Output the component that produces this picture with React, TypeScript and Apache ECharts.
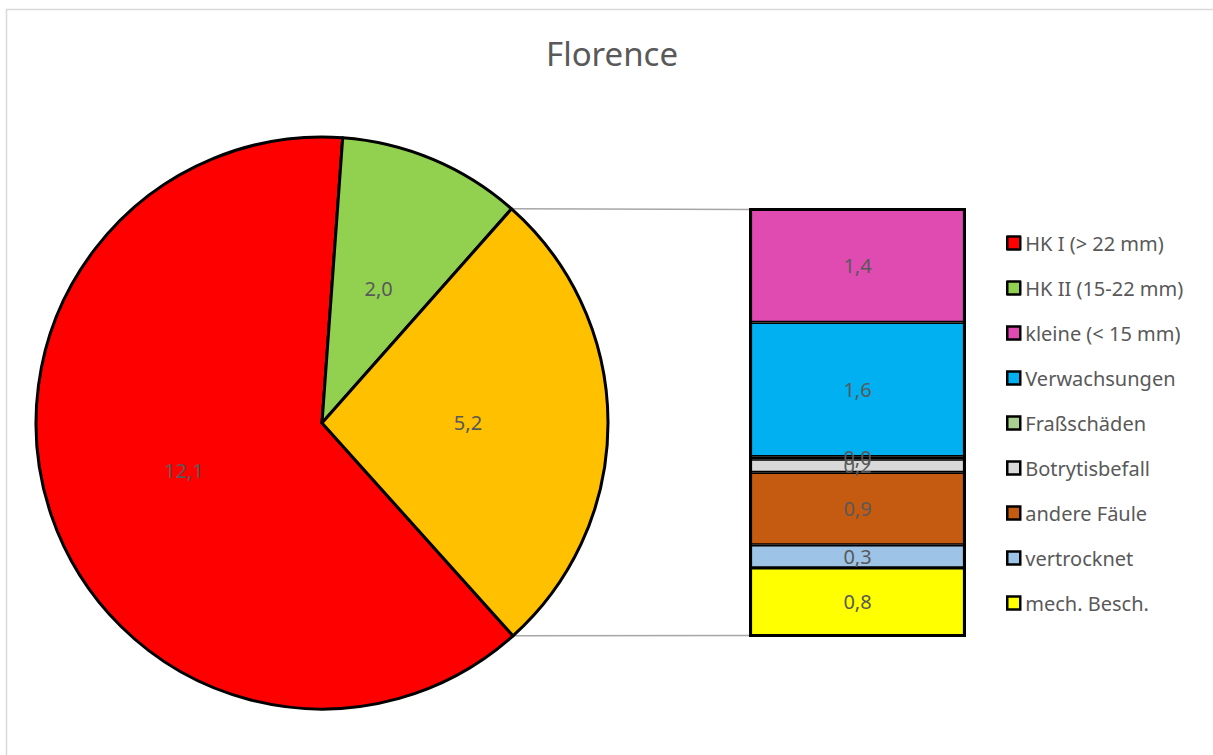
import React, { useEffect, useRef } from "react";
import * as echarts from "echarts";

const title = "Florence";
const pieNames = ["HK I (> 22 mm)", "HK II (15-22 mm)", "Sonstige"];
const pieMainValues = [12.1, 2.0];
const pieColors = ["#FF0000", "#92D050", "#FFC000"];

// bar segments, top to bottom
const barNames = [
  "kleine (< 15 mm)",
  "Verwachsungen",
  "Fraßschäden",
  "Botrytisbefall",
  "andere Fäule",
  "vertrocknet",
  "mech. Besch.",
];
const barValues = [1.37, 1.63, 0.03, 0.16, 0.88, 0.28, 0.82];
const barColors = ["#E04BB2", "#00B0F0", "#A9D08E", "#D9D9D9", "#C55A11", "#9DC3E6", "#FFFF00"];

const fmt = (v: number) => v.toFixed(1).replace(".", ",");
const FONT = "'Noto Sans', sans-serif";
const GRAY = "#595959";

export default function App() {
  const ref = useRef<HTMLDivElement>(null);
  useEffect(() => {
    if (!ref.current) return;
    const chart = echarts.init(ref.current, null, { renderer: "svg" });
    const otherTotal = barValues.reduce((a, b) => a + b, 0);
    const pieValues = [...pieMainValues, otherTotal];
    const pieTotal = pieValues.reduce((a, b) => a + b, 0);
    const cx = 322;
    const cy = 423;
    const r = 286;
    const startAngle = 311.9;
    const gridLeft = 750.5;
    const gridWidth = 214;

    const barSeries = barNames
      .map((name, i) => ({
        name,
        type: "bar",
        stack: "s",
        barWidth: "100%",
        xAxisIndex: 0,
        yAxisIndex: 0,
        data: [barValues[i]],
        itemStyle: { color: barColors[i], borderColor: "#000", borderWidth: 1.6 },
        label: {
          show: true,
          position: "inside",
          formatter: (p: any) => fmt(p.value),
          color: GRAY,
          fontSize: 20,
          fontFamily: FONT,
        },
        emphasis: { disabled: true },
      }))
      .reverse();

    const option: any = {
      animation: false,
      backgroundColor: "#fff",
      title: {
        text: title,
        left: 546,
        top: 37,
        padding: 0,
        textStyle: { fontFamily: FONT, fontSize: 33, fontWeight: "normal", color: GRAY },
      },
      legend: {
        orient: "vertical",
        left: 1006,
        top: 233,
        padding: 0,
        itemWidth: 13,
        itemHeight: 13,
        itemGap: 25,
        icon: "rect",
        data: [pieNames[0], pieNames[1], ...barNames],
        textStyle: { fontFamily: FONT, fontSize: 20, color: GRAY, lineHeight: 20 },
        itemStyle: { borderColor: "#000", borderWidth: 2.5 },
      },
      grid: { left: gridLeft, top: 209.5, width: gridWidth, height: 426 },
      xAxis: { type: "category", data: ["x"], show: false },
      yAxis: { type: "value", min: 0, max: otherTotal, show: false },
      series: [
        {
          type: "pie",
          center: [cx, cy],
          radius: r,
          startAngle,
          clockwise: true,
          avoidLabelOverlap: false,
          data: pieNames.map((name, i) => ({
            name,
            value: pieValues[i],
            itemStyle: { color: pieColors[i] },
          })),
          itemStyle: { borderColor: "#000", borderWidth: 3 },
          label: {
            show: true,
            position: "inside",
            formatter: (p: any) => fmt(p.value),
            color: GRAY,
            fontSize: 20,
            fontFamily: FONT,
          },
          labelLine: { show: false },
          emphasis: { disabled: true },
        },
        ...barSeries,
      ],
    };
    chart.setOption(option);

    // connector lines from the "other" slice edges to the bar
    const orangeStartDeg = startAngle - (360 * (pieValues[0] + pieValues[1])) / pieTotal;
    const orangeEndDeg = startAngle;
    const pt = (deg: number) => {
      const a = (deg * Math.PI) / 180;
      return [cx + r * Math.cos(a), cy - r * Math.sin(a)];
    };
    const pTop = pt(orangeStartDeg);
    const pBot = pt(orangeEndDeg);
    const barTop = chart.convertToPixel({ gridIndex: 0 }, [0, otherTotal]) as number[];
    const barBot = chart.convertToPixel({ gridIndex: 0 }, [0, 0]) as number[];
    chart.setOption({
      graphic: [
        {
          type: "rect",
          shape: { x: 6.5, y: 9.5, width: 1230, height: 780 },
          style: { fill: "none", stroke: "#d9d9d9", lineWidth: 1.5 },
          silent: true,
        },
        {
          type: "line",
          shape: { x1: pTop[0], y1: pTop[1], x2: gridLeft, y2: barTop[1] },
          style: { stroke: "#a6a6a6", lineWidth: 1.5 },
          silent: true,
          z: -1,
        },
        {
          type: "line",
          shape: { x1: pBot[0], y1: pBot[1], x2: gridLeft, y2: barBot[1] },
          style: { stroke: "#a6a6a6", lineWidth: 1.5 },
          silent: true,
          z: -1,
        },
        {
          type: "rect",
          shape: {
            x: gridLeft,
            y: barTop[1],
            width: gridWidth,
            height: barBot[1] - barTop[1],
          },
          style: { fill: "none", stroke: "#000", lineWidth: 3 },
          silent: true,
          z: 100,
        },
      ],
    });
    return () => chart.dispose();
  }, []);
  return (
    <div
      ref={ref}
      style={{ position: "absolute", left: 0, top: 0, width: 1213, height: 755 }}
    />
  );
}
